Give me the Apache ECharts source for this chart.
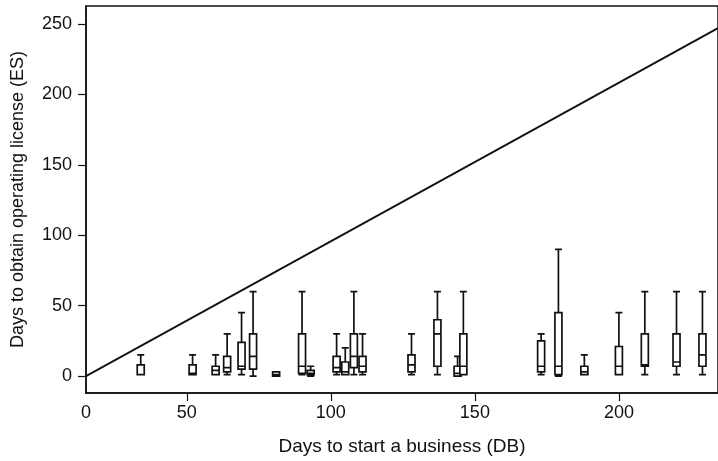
<!DOCTYPE html>
<html>
<head>
<meta charset="utf-8">
<script src="https://cdn.jsdelivr.net/npm/echarts@6/dist/echarts.min.js"></script>
<style>
  html, body { margin: 0; padding: 0; background: #fff; }
  #chart { width: 718px; height: 461px; }
</style>
</head>
<body>
<div id="chart"></div>
<script>
// Days to start a business (DB) for each group of countries
const dbDays = [34, 52, 60, 64, 69, 73, 81, 90, 93, 102, 105, 108, 111,
                128, 137, 144, 146, 173, 179, 188, 200, 209, 220, 229];
// Days to obtain an operating license (ES): five-number summaries
const esMin    = [1, 1, 1, 1, 1, 0, 0, 1, 0, 1, 1, 1, 1, 1, 1, 0, 1, 1, 0, 1, 1, 1, 1, 1];
const esQ1     = [1, 1, 1, 3, 5, 5, 0, 2, 1, 3, 1, 6, 3, 3, 7, 0, 1, 3, 1, 1, 1, 7, 7, 7];
const esMedian = [1, 2, 4, 6, 7, 14, 1, 7, 2, 6, 3, 14, 7, 8, 30, 2, 7, 7, 7, 3, 7, 8, 10, 15];
const esQ3     = [8, 8, 7, 14, 24, 30, 3, 30, 4, 14, 10, 30, 14, 15, 40, 7, 30, 25, 45, 7, 21, 30, 30, 30];
const esMax    = [15, 15, 15, 30, 45, 60, 3, 60, 7, 30, 20, 60, 30, 30, 60, 14, 60, 30, 90, 15, 45, 60, 60, 60];

// Reference diagonal
const diagX = [15, 234.4];
const diagY = [0, 247];

// Axis labels
const xTicks = [50, 100, 150, 200];
const xStart = 15;
const yTicks = [0, 50, 100, 150, 200, 250];

const boxData = dbDays.map((d, i) => [d, esMin[i], esQ1[i], esMedian[i], esQ3[i], esMax[i]]);
const diagData = diagX.map((x, i) => [x, diagY[i]]);

const font = '"Liberation Sans", Arial, sans-serif';
const ink = '#111';

const chart = echarts.init(document.getElementById('chart'), null, { renderer: 'canvas' });
chart.setOption({
  animation: false,
  backgroundColor: '#fff',
  grid: {
    left: 86, top: 6, right: -3, bottom: 67,
    show: true, borderColor: ink, borderWidth: 1.5, backgroundColor: 'transparent'
  },
  xAxis: {
    type: 'value',
    min: xStart, max: 234.4,
    name: 'Days to start a business (DB)',
    nameLocation: 'middle',
    nameGap: 44,
    nameTextStyle: { fontFamily: font, fontSize: 19, color: ink },
    axisLine: { show: true, onZero: false, lineStyle: { color: ink, width: 1.5 } },
    axisTick: { show: true, length: 8, customValues: xTicks, lineStyle: { color: ink, width: 1.2 } },
    axisLabel: {
      customValues: [xStart].concat(xTicks),
      formatter: v => (v === xStart ? '0' : String(v)),
      fontFamily: font, fontSize: 18, color: ink, margin: 11
    },
    splitLine: { show: false }
  },
  yAxis: {
    type: 'value',
    min: -12, max: 262.7,
    name: 'Days to obtain operating license (ES)',
    nameLocation: 'middle',
    nameGap: 59,
    nameTextStyle: { fontFamily: font, fontSize: 18, color: ink },
    axisLine: { show: true, onZero: false, lineStyle: { color: ink, width: 1.5 } },
    axisTick: { show: true, length: 8, customValues: yTicks, lineStyle: { color: ink, width: 1.2 } },
    axisLabel: {
      customValues: yTicks,
      fontFamily: font, fontSize: 18, color: ink, margin: 14
    },
    splitLine: { show: false }
  },
  series: [
    {
      type: 'line',
      data: diagData,
      symbol: 'none',
      lineStyle: { color: ink, width: 1.8 },
      silent: true,
      z: 2
    },
    {
      type: 'boxplot',
      data: boxData,
      boxWidth: [7, 7],
      itemStyle: { color: '#fff', borderColor: ink, borderWidth: 1.7 },
      silent: true,
      z: 3
    }
  ]
});
</script>
</body>
</html>
